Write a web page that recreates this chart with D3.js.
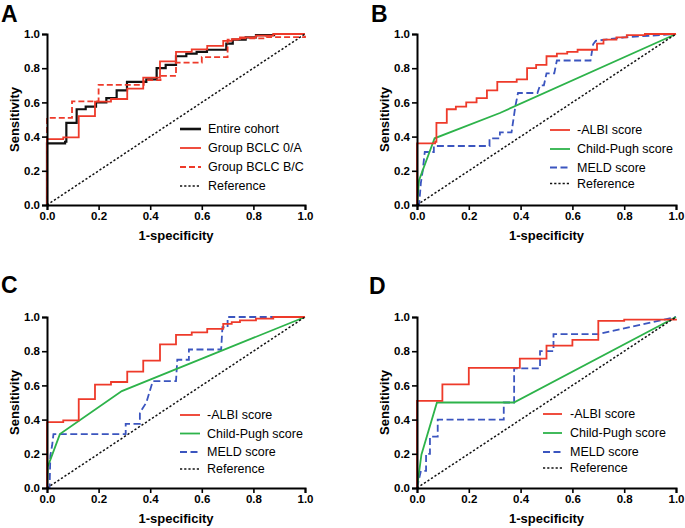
<!DOCTYPE html>
<html>
<head>
<meta charset="utf-8">
<script src="https://cdn.jsdelivr.net/npm/d3@7"></script>
<style>
  html, body { margin: 0; padding: 0; background: #fff; }
  svg { display: block; font-family: "Liberation Sans", Arial, sans-serif; }
</style>
</head>
<body>
<svg id="chart" width="685" height="528"></svg>
<script>
// ---------------- DATA ----------------
const tickValues = [0, 0.2, 0.4, 0.6, 0.8, 1.0];
const tickLabels = ["0.0", "0.2", "0.4", "0.6", "0.8", "1.0"];
const panelLetters = ["A", "B", "C", "D"];
const xTitle = "1-specificity";
const yTitle = "Sensitivity";

const referenceLine = [[0, 0], [1, 1]];

// Panel A  (points = [1-specificity, sensitivity]; step curves)
const entireCohortA = [[0,0],[0,0.36],[0.07,0.37],[0.075,0.48],[0.115,0.56],[0.15,0.575],[0.19,0.60],[0.23,0.625],[0.27,0.67],[0.31,0.72],[0.385,0.735],[0.425,0.80],[0.46,0.82],[0.5,0.87],[0.54,0.885],[0.58,0.895],[0.62,0.908],[0.695,0.944],[0.72,0.967],[0.77,0.98],[0.81,0.994],[0.88,1.0],[1,1]];
const bclc0AA = [[0,0],[0,0.385],[0.063,0.395],[0.123,0.52],[0.186,0.605],[0.248,0.62],[0.311,0.68],[0.373,0.745],[0.438,0.84],[0.5,0.895],[0.561,0.91],[0.621,0.93],[0.683,0.96],[0.716,0.97],[0.748,0.98],[0.81,0.99],[0.877,1.0],[1,1]];
const bclcBCA = [[0,0],[0,0.51],[0.097,0.606],[0.2,0.703],[0.375,0.73],[0.44,0.755],[0.5,0.833],[0.6,0.865],[0.7,0.967],[0.75,0.975],[0.85,0.982],[1,0.99]];

// Panel B
const albiB = [[0,0],[0,0.36],[0.07,0.37],[0.075,0.48],[0.115,0.56],[0.15,0.575],[0.19,0.60],[0.23,0.625],[0.27,0.67],[0.31,0.72],[0.385,0.735],[0.425,0.80],[0.46,0.82],[0.5,0.87],[0.54,0.885],[0.58,0.895],[0.62,0.908],[0.695,0.944],[0.72,0.967],[0.77,0.98],[0.81,0.994],[0.88,1.0],[1,1]];
const childPughB = [[0,0],[0.008,0.145],[0.068,0.39],[0.32,0.538],[1,1]];
const meldB = [[0,0],[0.008,0],[0.015,0.13],[0.022,0.2],[0.03,0.31],[0.065,0.31],[0.065,0.345],[0.28,0.345],[0.28,0.39],[0.32,0.39],[0.32,0.425],[0.365,0.425],[0.38,0.58],[0.39,0.655],[0.465,0.655],[0.475,0.70],[0.49,0.70],[0.5,0.77],[0.53,0.77],[0.54,0.845],[0.67,0.845],[0.68,0.94],[0.69,0.96],[0.8,0.98],[1,1]];

// Panel C
const albiC = [[0,0],[0,0.385],[0.063,0.395],[0.123,0.52],[0.186,0.605],[0.248,0.62],[0.311,0.68],[0.373,0.745],[0.438,0.84],[0.5,0.895],[0.561,0.91],[0.621,0.93],[0.683,0.96],[0.716,0.97],[0.748,0.98],[0.81,0.99],[0.877,1.0],[1,1]];
const childPughC = [[0,0],[0.003,0.125],[0.05,0.315],[0.29,0.567],[1,1]];
const meldC = [[0,0],[0.01,0],[0.013,0.19],[0.02,0.25],[0.025,0.315],[0.305,0.315],[0.305,0.375],[0.36,0.375],[0.36,0.44],[0.385,0.5],[0.41,0.625],[0.5,0.625],[0.505,0.75],[0.55,0.75],[0.55,0.81],[0.675,0.81],[0.68,0.94],[0.70,0.94],[0.70,1.0],[1,1]];

// Panel D
const albiD = [[0,0],[0,0.51],[0.098,0.606],[0.2,0.703],[0.397,0.757],[0.5,0.833],[0.6,0.866],[0.7,0.977],[0.8,0.985],[1,0.99]];
const childPughD = [[0,0],[0.017,0.195],[0.077,0.5],[0.374,0.5],[1,1]];
const meldD = [[0,0],[0.015,0.1],[0.035,0.1],[0.035,0.2],[0.05,0.2],[0.05,0.3],[0.08,0.3],[0.08,0.4],[0.335,0.4],[0.335,0.5],[0.375,0.5],[0.375,0.7],[0.475,0.7],[0.475,0.8],[0.527,0.8],[0.527,0.9],[0.7,0.9],[1,1]];

const legendA = ["Entire cohort", "Group BCLC 0/A", "Group BCLC B/C", "Reference"];
const legendScores = ["-ALBI score", "Child-Pugh score", "MELD score", "Reference"];

// ---------------- STYLES ----------------
const RED = "#ee3a2a", GREEN = "#2db34a", BLUE = "#3b55bf", BLACK = "#111";
const styleBlack = {color: BLACK, width: 2.2, dash: null, step: true};
const styleRed = {color: RED, width: 1.8, dash: null, step: true};
const styleRedDash = {color: RED, width: 1.8, dash: "6,3", step: true};
const styleGreen = {color: GREEN, width: 1.8, dash: null, step: false};
const styleBlue = {color: BLUE, width: 1.8, dash: "7,3.5", step: false};
const styleRef = {color: BLACK, width: 1.5, dash: "2.2,2", step: false};

const panels = [
  {letter: panelLetters[0], left: 47, right: 305, top: 34, bottom: 205,
   letterX: 1, letterY: 22,
   series: [
     {data: entireCohortA, s: styleBlack},
     {data: bclcBCA, s: styleRedDash},
     {data: bclc0AA, s: styleRed},
     {data: referenceLine, s: styleRef}],
   legend: {labels: legendA, styles: [styleBlack, styleRed, styleRedDash, styleRef],
            x1: 180, x2: 201, tx: 208, ys: [129, 148, 167, 186]}},
  {letter: panelLetters[1], left: 417, right: 676, top: 34, bottom: 205,
   letterX: 371, letterY: 22,
   series: [
     {data: meldB, s: styleBlue},
     {data: childPughB, s: styleGreen},
     {data: albiB, s: styleRed},
     {data: referenceLine, s: styleRef}],
   legend: {labels: legendScores, styles: [styleRed, styleGreen, styleBlue, styleRef],
            x1: 550, x2: 570, tx: 577, ys: [130, 149, 167.5, 183.5]}},
  {letter: panelLetters[2], left: 47, right: 305, top: 317, bottom: 488,
   letterX: 1, letterY: 293,
   series: [
     {data: meldC, s: styleBlue},
     {data: childPughC, s: styleGreen},
     {data: albiC, s: styleRed},
     {data: referenceLine, s: styleRef}],
   legend: {labels: legendScores, styles: [styleRed, styleGreen, styleBlue, styleRef],
            x1: 180, x2: 200, tx: 207, ys: [415, 433.5, 452, 469]}},
  {letter: panelLetters[3], left: 417, right: 676, top: 317, bottom: 488,
   letterX: 369, letterY: 294,
   series: [
     {data: meldD, s: styleBlue},
     {data: childPughD, s: styleGreen},
     {data: albiD, s: styleRed},
     {data: referenceLine, s: styleRef}],
   legend: {labels: legendScores, styles: [styleRed, styleGreen, styleBlue, styleRef],
            x1: 543, x2: 562, tx: 570, ys: [414, 433, 452, 468]}}
];

const svg = d3.select("#chart");

panels.forEach(p => {
  const g = svg.append("g");
  const x = d3.scaleLinear().domain([0, 1]).range([p.left, p.right]);
  const y = d3.scaleLinear().domain([0, 1]).range([p.bottom, p.top]);

  // series
  p.series.forEach(ser => {
    const line = d3.line()
      .x(d => x(d[0])).y(d => y(d[1]))
      .curve(ser.s.step ? d3.curveStepAfter : d3.curveLinear);
    g.append("path")
      .datum(ser.data)
      .attr("d", line)
      .attr("fill", "none")
      .attr("stroke", ser.s.color)
      .attr("stroke-width", ser.s.width)
      .attr("stroke-dasharray", ser.s.dash)
      .attr("stroke-linejoin", "miter");
  });

  // axes
  const xAxis = d3.axisBottom(x).tickValues(tickValues)
    .tickFormat((d, i) => tickLabels[i]).tickSizeOuter(0).tickSize(5).tickPadding(2);
  const yAxis = d3.axisLeft(y).tickValues(tickValues)
    .tickFormat((d, i) => tickLabels[i]).tickSizeOuter(0).tickSize(5).tickPadding(2);

  const gx = g.append("g").attr("transform", `translate(0,${p.bottom})`).call(xAxis);
  const gy = g.append("g").attr("transform", `translate(${p.left},0)`).call(yAxis);
  [gx, gy].forEach(ax => {
    ax.select(".domain").attr("stroke", "#000").attr("stroke-width", 2);
    ax.selectAll(".tick line").attr("stroke", "#000").attr("stroke-width", 1.6);
    ax.selectAll(".tick text")
      .attr("fill", "#000")
      .style("font-family", "'Liberation Sans', Arial, sans-serif")
      .style("font-size", "11.5px").style("font-weight", "bold");
  });

  // axis titles
  g.append("text")
    .attr("x", (p.left + p.right) / 2).attr("y", p.bottom + 35)
    .attr("text-anchor", "middle")
    .style("font-size", "13px").style("font-weight", "bold")
    .text(xTitle);
  g.append("text")
    .attr("transform", `translate(${p.left - 28},${(p.top + p.bottom) / 2}) rotate(-90)`)
    .attr("text-anchor", "middle")
    .style("font-size", "13px").style("font-weight", "bold")
    .text(yTitle);

  // panel letter
  g.append("text")
    .attr("x", p.letterX).attr("y", p.letterY)
    .style("font-size", "23px").style("font-weight", "bold")
    .text(p.letter);

  // legend
  const L = p.legend;
  L.labels.forEach((lab, i) => {
    const st = L.styles[i];
    g.append("line")
      .attr("x1", L.x1).attr("x2", L.x2)
      .attr("y1", L.ys[i]).attr("y2", L.ys[i])
      .attr("stroke", st.color)
      .attr("stroke-width", st === styleBlack ? 2.6 : st.width)
      .attr("stroke-dasharray", st.dash);
    g.append("text")
      .attr("x", L.tx).attr("y", L.ys[i])
      .attr("dy", "0.35em")
      .style("font-size", "12.5px")
      .attr("fill", "#000")
      .text(lab);
  });
});
</script>
</body>
</html>
